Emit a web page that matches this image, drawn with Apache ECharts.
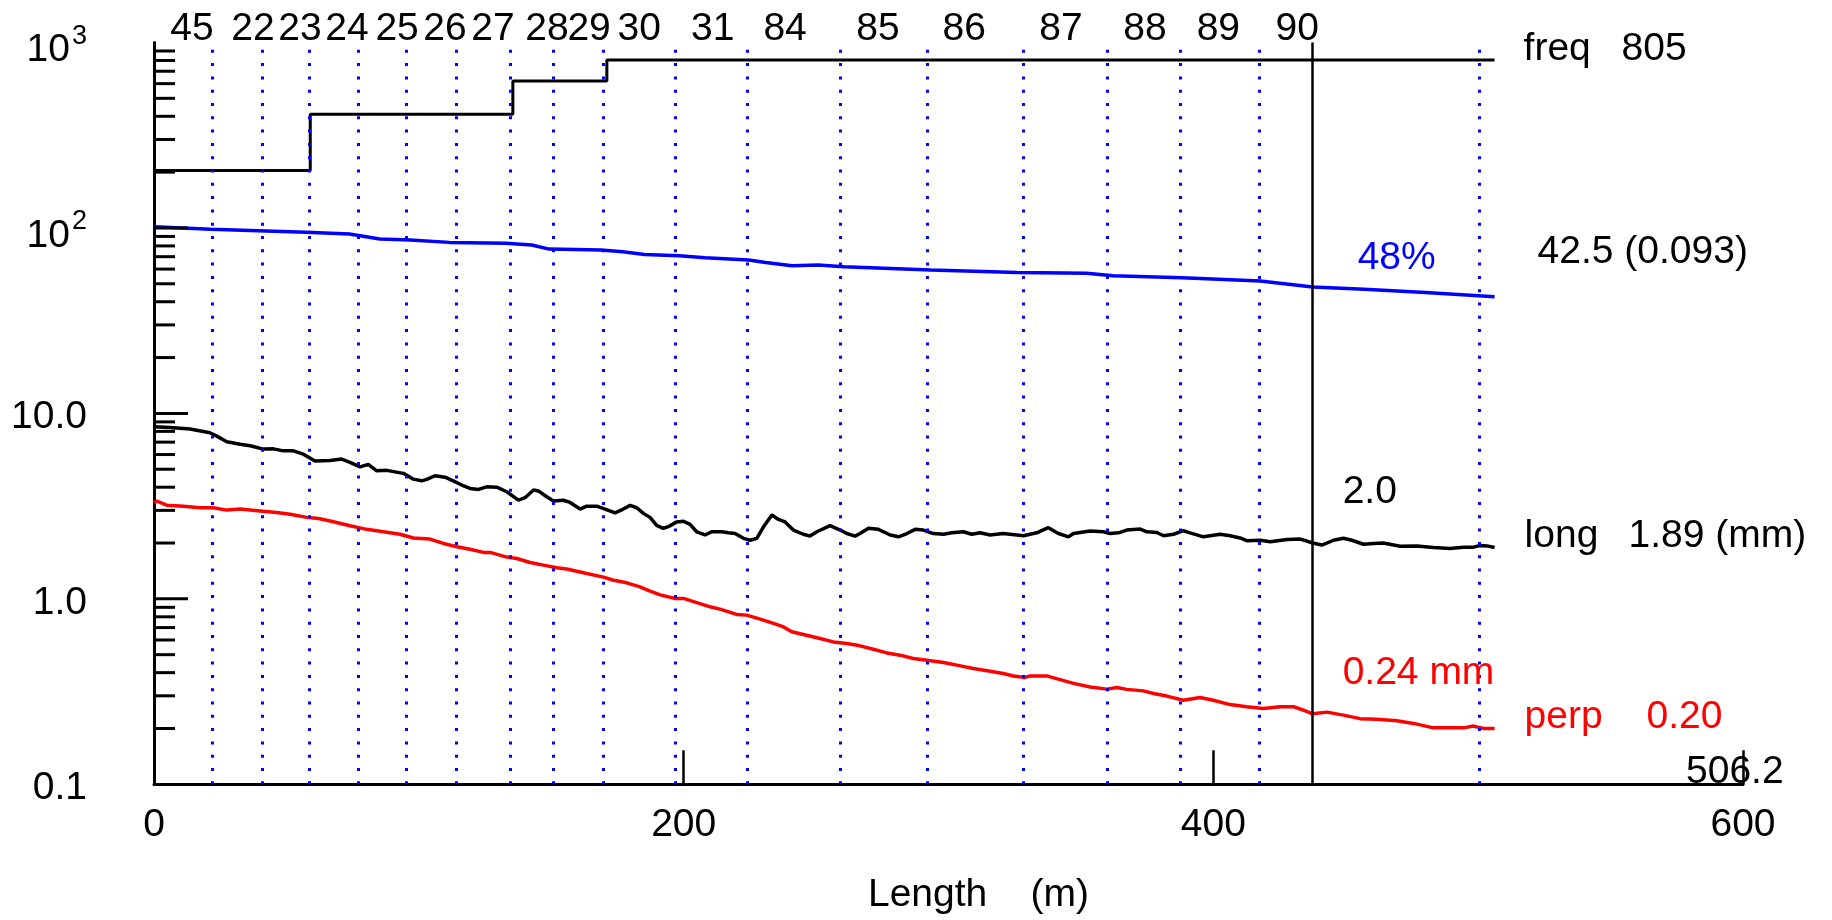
<!DOCTYPE html>
<html>
<head>
<meta charset="utf-8">
<script src="https://cdn.jsdelivr.net/npm/echarts@6/dist/echarts.min.js"></script>
<style>
  html, body { margin: 0; padding: 0; background: #fff; }
  #chart { width: 1832px; height: 920px; }
</style>
</head>
<body>
<div id="chart"></div>
<script>
// ---- data -------------------------------------------------------------
// section numbers written along the top and where each one sits (m)
const sectionNames = ['45','22','23','24','25','26','27','28','29','30','31','84','85','86','87','88','89','90'];
const sectionNameX = [14.35, 37.4, 55.1, 72.9, 91.8, 109.9, 128.0, 148.4, 164.3, 183.2, 211.0, 238.3, 273.4, 305.9, 342.5, 374.2, 401.9, 431.7];
// section boundaries (m)
const sectionBounds = [21.9, 40.8, 58.7, 77.2, 95.1, 114.0, 134.6, 150.6, 169.8, 196.9, 224.1, 259.2, 291.8, 328.3, 360.0, 387.6, 417.5, 500.5];

const totalLength = 506.2;   // m
const cursorX = 437.5;       // m

// cumulative frequency (step)
const freqData = [[0, 204], [59, 410], [135.5, 620], [171, 805], [totalLength, 805]];

// blue curve
const levelData = [
  [0,101.5],[21.4,98.3],[57.4,94.7],[73.8,92.7],[85.3,87.1],[96.7,86.0],[111.5,83.6],[132.8,82.6],
  [142.6,80.9],[149.2,76.9],[168.8,76.0],[177,74.4],[185.2,72.0],[198.3,70.8],[208.1,69.1],[224.5,67.1],
  [231,65.2],[240.9,62.5],[250.7,63.1],[260.5,61.8],[293.3,59.3],[326,57.6],[352.2,56.9],[362,55.2],
  [388.2,53.9],[417.7,51.7],[cursorX,48],[457,46.7],[480,44.9],[totalLength,42.5]
];

// longitudinal (mm)
const longData = [
  [0,8.47],[6.0,8.40],[13.6,8.23],[21.1,7.86],[23.7,7.54],[27.5,7.03],[32.5,6.81],[36.3,6.69],[41.3,6.42],
  [45.1,6.44],[48.8,6.28],[52.6,6.28],[56.4,6.03],[60.8,5.53],[66.5,5.58],[70.9,5.67],[74.0,5.44],[77.8,5.15],
  [80.9,5.31],[84.1,4.90],[87.9,4.93],[94.2,4.75],[97.9,4.42],[101.1,4.33],[103.0,4.41],[106.1,4.61],
  [109.9,4.53],[113.0,4.33],[116.2,4.11],[119.3,3.94],[122.5,3.89],[125.6,4.02],[129.4,4.00],[133.2,3.78],
  [137.6,3.41],[140.1,3.51],[143.3,3.86],[145.1,3.82],[148.3,3.55],[150.8,3.37],[154.6,3.40],[157.1,3.31],
  [160.9,3.05],[163.4,3.16],[167.2,3.16],[170.3,3.05],[174.1,2.91],[177.2,3.05],[179.8,3.19],[182.3,3.10],
  [182.9,3.13],[184.8,2.89],[187.3,2.75],[189.8,2.49],[192.3,2.40],[194.2,2.45],[197.4,2.60],[199.9,2.62],
  [202.4,2.52],[204.9,2.30],[208.1,2.21],[210.6,2.30],[214.4,2.30],[216.9,2.27],[219.4,2.25],[222.6,2.12],
  [225.1,2.07],[227.6,2.12],[230.1,2.44],[233.3,2.83],[235.8,2.68],[238.3,2.60],[241.4,2.35],[245.2,2.23],
  [247.7,2.18],[250.3,2.30],[255.3,2.48],[259.1,2.35],[261.6,2.25],[264.7,2.18],[266.6,2.25],[269.8,2.40],
  [273.5,2.37],[278.0,2.21],[281.1,2.16],[284.3,2.25],[287.4,2.37],[290.5,2.35],[294.3,2.25],[298.1,2.23],
  [301.2,2.27],[305.6,2.30],[308.8,2.23],[311.9,2.27],[315.7,2.21],[320.7,2.25],[328.3,2.19],[333.3,2.27],
  [337.7,2.42],[341.5,2.25],[345.3,2.16],[347.2,2.25],[353.5,2.32],[358.5,2.30],[361.0,2.25],[364.2,2.27],
  [367.3,2.35],[372.4,2.38],[374.9,2.30],[378.7,2.28],[381.2,2.19],[385.0,2.23],[388.7,2.33],[391.2,2.27],
  [396.3,2.16],[402.6,2.23],[406.3,2.19],[410.1,2.13],[412.6,2.06],[417.7,2.07],[421.5,2.03],[427.8,2.09],
  [432.8,2.10],[435.3,2.05],[cursorX,2.0],[441.0,1.95],[445.4,2.07],[449.1,2.12],[452.3,2.07],[456.7,1.97],
  [460.5,1.99],[464.2,2.0],[470.5,1.92],[476.8,1.93],[483.1,1.89],[489.4,1.87],[494.5,1.90],[498.2,1.90],
  [500.8,1.94],[503.3,1.93],[totalLength,1.89]
];

// perpendicular (mm)
const perpData = [
  [0,3.29],[1.0,3.37],[4.8,3.20],[11.1,3.16],[17.4,3.10],[22.4,3.10],[27.5,3.01],[32.5,3.05],[40.0,2.98],
  [46.3,2.92],[51.4,2.86],[57.7,2.75],[62.1,2.71],[66.5,2.63],[74.0,2.48],[80.3,2.37],[86.6,2.30],[92.9,2.23],
  [97.9,2.13],[104.2,2.10],[109.3,1.99],[114.3,1.91],[119.3,1.85],[124.4,1.78],[126.9,1.78],[133.2,1.68],
  [137.0,1.65],[142.0,1.57],[147.0,1.52],[152.1,1.47],[155.9,1.45],[163.4,1.37],[169.7,1.31],[173.5,1.26],
  [178.5,1.22],[183.5,1.16],[187.3,1.10],[191.1,1.05],[196.8,1.005],[199.9,1.005],[210.0,0.906],[213.7,0.880],
  [220.0,0.824],[223.8,0.817],[228.9,0.777],[233.9,0.737],[237.7,0.706],[240.8,0.664],[245.2,0.642],
  [251.5,0.611],[256.5,0.586],[261.6,0.574],[266.6,0.558],[271.6,0.535],[276.7,0.511],[281.7,0.497],
  [286.7,0.477],[291.8,0.467],[298.1,0.454],[303.1,0.439],[309.4,0.421],[315.7,0.407],[320.7,0.396],
  [324.5,0.384],[328.9,0.377],[330.8,0.384],[337.1,0.384],[342.1,0.367],[347.2,0.350],[353.5,0.335],
  [359.8,0.326],[363.6,0.333],[367.3,0.325],[373.6,0.319],[377.4,0.309],[382.4,0.299],[388.7,0.284],
  [395.0,0.294],[400.0,0.284],[406.3,0.269],[412.6,0.262],[418.9,0.256],[425.2,0.262],[430.3,0.262],
  [434.0,0.251],[cursorX,0.24],[442.9,0.245],[449.1,0.236],[455.4,0.226],[461.7,0.224],[469.3,0.220],
  [475.6,0.213],[483.1,0.2015],[489.4,0.2015],[494.5,0.2015],[498.2,0.206],[502.0,0.200],[totalLength,0.20]
];

// y axis tick marks and labels
const yMajorTicks = [1, 10, 100];
const yMinorTicks = [
  0.2,0.3,0.4,0.5,0.6,0.7,0.8,0.9,
  2,3,4,5,6,7,8,9,
  20,30,40,50,60,70,80,90,
  200,300,400,500,600,700,800,900
];
const yTickLabels = ['0.1', '1.0', '10.0', '{n|10}{s|2}', '{n|10}{s|3}'];   // 10^-1 .. 10^3

// ---- chart ------------------------------------------------------------
const FONT = 'Liberation Sans';
const FS = 39;
const BLUE = '#0000ff', RED = '#ff0000', BLACK = '#000000';
const LW = 3.5;

// a text note anchored on a data point, shifted by (dx, dy) pixels
function note(coord, text, color, dx, dy) {
  return {
    coord: coord, value: coord[1],
    label: {
      show: true, position: 'inside', align: 'left', verticalAlign: 'middle',
      offset: [dx, dy + 4], formatter: text, color: color,
      fontFamily: FONT, fontSize: FS
    }
  };
}
const hiddenSymbol = { symbol: 'circle', symbolSize: 1, itemStyle: { color: 'rgba(0,0,0,0)' } };

const chart = echarts.init(document.getElementById('chart'), null, { renderer: 'canvas' });

chart.setOption({
  animation: false,
  backgroundColor: '#ffffff',
  grid: { left: 154, right: 89, top: 42.5, bottom: 135.7, containLabel: false, outerBoundsMode: 'none' },
  xAxis: {
    type: 'value', min: 0, max: 600, interval: 200,
    name: 'Length    (m)', nameLocation: 'middle', nameGap: 91,
    nameTextStyle: { fontFamily: FONT, fontSize: FS, color: BLACK, padding: [0, 0, 0, 60] },
    axisLine: { show: true, onZero: false, lineStyle: { color: BLACK, width: 3 } },
    axisTick: { show: true, inside: true, length: 34, lineStyle: { color: BLACK, width: 2.5 } },
    axisLabel: { fontFamily: FONT, fontSize: FS, color: BLACK, margin: 21 },
    splitLine: { show: false }
  },
  yAxis: {
    type: 'log', logBase: 10, min: 0.1, max: 1000,
    axisLine: { show: true, lineStyle: { color: BLACK, width: 3 } },
    axisTick: { show: false },
    minorTick: { show: false },
    splitLine: { show: false },
    axisLabel: {
      margin: 67, fontFamily: FONT, fontSize: FS, color: BLACK,
      padding: [8, 0, 0, 0],
      formatter: function (v) {
        const e = Math.round(Math.log10(v));
        return yTickLabels[e + 1];
      },
      rich: {
        n: { fontFamily: FONT, fontSize: FS, color: BLACK, verticalAlign: 'bottom' },
        s: { fontFamily: FONT, fontSize: 27, color: BLACK, verticalAlign: 'top', padding: [0, 0, 20, 2] }
      }
    }
  },
  series: [
    // section boundaries and the cursor line
    {
      type: 'line', data: [], z: 1, silent: true,
      markLine: {
        silent: true, symbol: ['none', 'none'], label: { show: false },
        data: sectionBounds.map(function (x) {
          return { xAxis: x, lineStyle: { color: BLUE, width: 3, type: [3, 10.3], cap: 'butt' } };
        }).concat([{ xAxis: cursorX, lineStyle: { color: BLACK, width: 2.5, type: 'solid' } }])
      }
    },
    {
      name: 'freq', type: 'line', step: 'end', data: freqData, z: 3,
      showSymbol: false, symbol: 'none',
      lineStyle: { color: BLACK, width: 3 },
      markPoint: Object.assign({}, hiddenSymbol, {
        data: [
          note([totalLength, 805], 'freq', BLACK, 29, -15),
          note([totalLength, 805], '{c}', BLACK, 127, -15)
        ]
      })
    },
    {
      name: 'level', type: 'line', data: levelData, z: 3,
      showSymbol: false, symbol: 'none',
      lineStyle: { color: BLUE, width: LW },
      markPoint: Object.assign({}, hiddenSymbol, {
        data: [
          note([cursorX, 48], '{c}%', BLUE, 45, -33),
          note([totalLength, 42.5], '{c} (0.093)', BLACK, 43, -49)
        ]
      })
    },
    {
      name: 'long', type: 'line', data: longData, z: 3,
      showSymbol: false, symbol: 'none',
      lineStyle: { color: BLACK, width: LW },
      markPoint: Object.assign({}, hiddenSymbol, {
        data: [
          note([cursorX, 2.0], '2.0', BLACK, 30, -55),
          note([totalLength, 1.89], 'long', BLACK, 30, -15),
          note([totalLength, 1.89], '{c} (mm)', BLACK, 134, -15)
        ]
      })
    },
    {
      name: 'perp', type: 'line', data: perpData, z: 3,
      showSymbol: false, symbol: 'none',
      lineStyle: { color: RED, width: LW },
      markPoint: Object.assign({}, hiddenSymbol, {
        data: [
          note([cursorX, 0.24], '{c} mm', RED, 30, -45),
          note([totalLength, 0.20], 'perp', RED, 30, -15),
          note([totalLength, 0.20], '0.20', RED, 152, -15),
          note([600, 0.1], String(totalLength), BLACK, -57, -16)
        ]
      })
    },
    // y axis tick marks (major and log minor)
    {
      type: 'custom', silent: true, clip: false, z: 4,
      data: yMinorTicks.map(function (v) { return [0, v, 0]; })
        .concat(yMajorTicks.map(function (v) { return [0, v, 1]; })),
      encode: { x: 0, y: 1 },
      renderItem: function (params, api) {
        const p = api.coord([api.value(0), api.value(1)]);
        const len = api.value(2) ? 34 : 21;
        return {
          type: 'line',
          shape: { x1: p[0], y1: p[1], x2: p[0] + len, y2: p[1] },
          style: { stroke: BLACK, lineWidth: 3 }
        };
      }
    },
    // section numbers along the top
    {
      type: 'custom', silent: true, clip: false, z: 4,
      data: sectionNameX.map(function (x) { return [x, 1000]; }),
      encode: { x: 0, y: 1 },
      renderItem: function (params, api) {
        const p = api.coord([api.value(0), api.value(1)]);
        return {
          type: 'text', x: p[0], y: p[1] - 13.5,
          style: {
            text: sectionNames[params.dataIndex], fill: BLACK,
            font: FS + 'px "' + FONT + '"',
            align: 'center', verticalAlign: 'middle'
          }
        };
      }
    }
  ]
});
</script>
</body>
</html>
